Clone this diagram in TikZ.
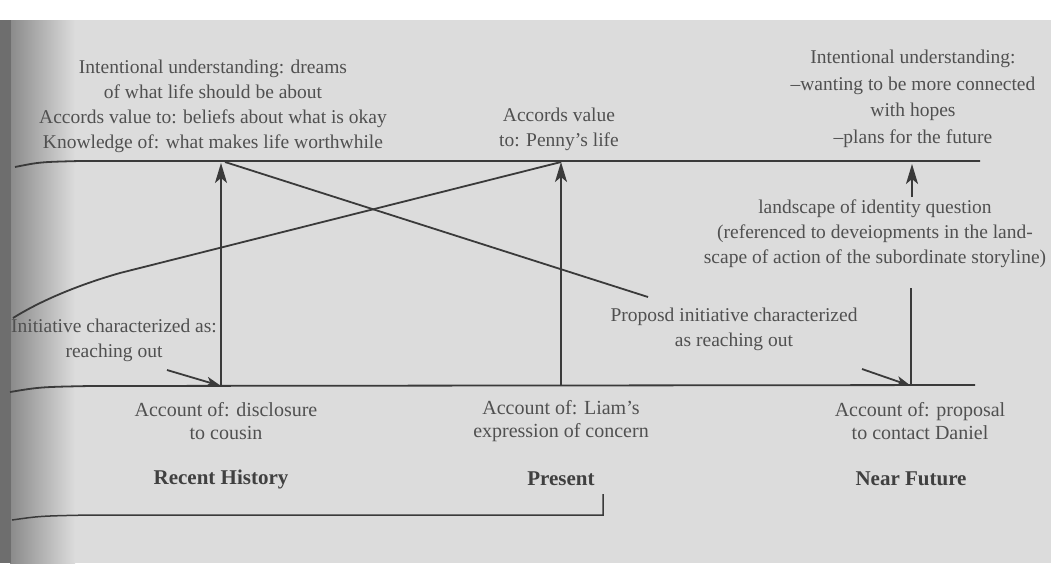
\documentclass[tikz,border=0pt]{standalone}
\usepackage{fontspec}
\setmainfont{Liberation Serif}
\usetikzlibrary{arrows.meta}
\definecolor{paper}{HTML}{DCDCDC}
\definecolor{gutter}{HTML}{8A8A8A}
\definecolor{ink}{HTML}{505050}
\definecolor{inkdark}{HTML}{404040}
\definecolor{rulec}{HTML}{3A3A3A}
\begin{document}
\begin{tikzpicture}[x=1pt,y=-1pt,
  lbl/.style={text=ink, align=center, inner sep=0pt, font=\fontsize{19.5}{25}\selectfont},
  lblwide/.style={lbl, font=\fontsize{19.5}{26.5}\selectfont},
  account/.style={lbl, font=\fontsize{20}{23}\selectfont},
  head/.style={text=inkdark, inner sep=0pt, font=\fontsize{21}{25}\selectfont\bfseries},
  rule/.style={draw=rulec, line width=1.8pt},
  up/.style={rule, -{Stealth[length=20pt,width=12pt,inset=5pt]}},
  nudge/.style={rule, -{Stealth[length=15pt,width=10pt,inset=4pt]}}]

% page background, book gutter and top edge
\useasboundingbox (0,0) rectangle (1051,563);
\fill[paper] (0,0) rectangle (1051,563);
\fill[left color=gutter, right color=paper, draw=none] (10,0) rectangle (75,563);
\fill[gutter!80!black] (0,0) rectangle (11,563);
\fill[white] (0,0) rectangle (1051,20);

% text blocks
\node[lbl] (dreams) at (213,106) {Intentional understanding: dreams\\of what life should be about\\Accords value to: beliefs about what is okay\\Knowledge of: what makes life worthwhile};
\node[lbl] (penny) at (559,129) {Accords value\\to: Penny's life};
\node[lblwide] (hopes) at (913,99) {Intentional understanding:\\--wanting to be more connected\\with hopes\\--plans for the future};
\node[lbl] (question) at (875,234) {landscape of identity question\\(referenced to deveiopments in the land-\\scape of action of the subordinate storyline)};
\node[lbl] (proposd) at (734,329) {Proposd initiative characterized\\as reaching out};
\node[lbl] (initL) at (114,340) {Initiative characterized as:\\reaching out};

\node[account] (acc1) at (226,421) {Account of: disclosure\\to cousin};
\node[account] (acc2) at (561,421) {Account of: Liam's\\expression of concern};
\node[account] (acc3) at (920,421) {Account of: proposal\\to contact Daniel};

\node[head] (recent) at (221,479) {Recent History};
\node[head] (present) at (561,479) {Present};
\node[head] (near) at (911,479) {Near Future};

% anchor points of the two timelines
\coordinate (topL) at (15,167);
\coordinate (topR) at (980,161);
\coordinate (botL) at (10,392);
\coordinate (botR) at (975,385);
\coordinate (b1) at (221,386);
\coordinate (b2) at (561,386);
\coordinate (b3) at (911,386);
\coordinate (t1) at (221,163);
\coordinate (t2) at (561,162);
\coordinate (t3) at (912,164);
\coordinate (s3) at (912,197);
\coordinate (m3) at (911,288);
\coordinate (d1) at (225,162);
\coordinate (d2) at (648,297);
\coordinate (c1) at (13,318);
\coordinate (n1) at (167,370);
\coordinate (n3) at (862,369);
\coordinate (k1) at (12,520);
\coordinate (k2) at (603,515);
\coordinate (k3) at (603,494);

% landscape of identity line and landscape of action line
\draw[rule] (topL) .. controls (40,162) .. (80,161) -- (topR);
\draw[rule] (botL) .. controls (40,387) .. (90,386) -- (botR);

% links between the two landscapes
\draw[up] (b1) -- (t1);
\draw[up] (b2) -- (t2);
\draw[up] (s3) -- (t3);
\draw[rule] (b3) -- (m3);
\draw[rule] (d1) -- (d2);
\draw[rule] (c1) .. controls (45,298) and (85,283) .. (120,273) -- (t2);
\draw[nudge] (n1) -- (b1);
\draw[nudge] (n3) -- (b3);

% bracket under the time periods
\draw[rule, line width=1.5pt] (k1) .. controls (40,516) .. (90,515) -- (k2) -- (k3);
\end{tikzpicture}
\end{document}
